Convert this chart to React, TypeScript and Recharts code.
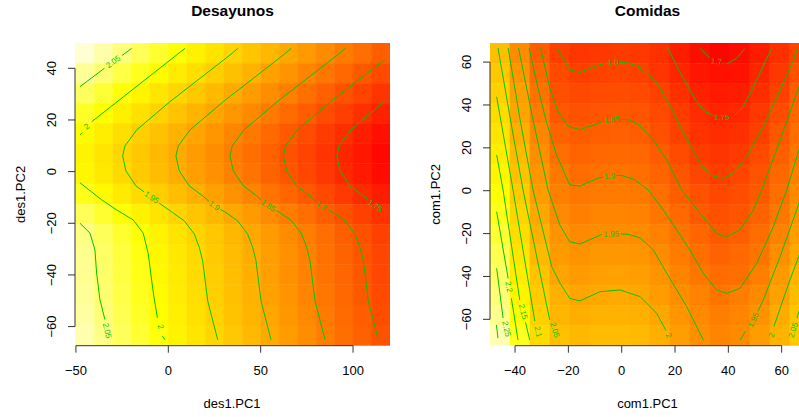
import React from "react";
import {
  ComposedChart,
  Line,
  ReferenceArea,
  ReferenceLine,
  Scatter,
  XAxis,
  YAxis
} from "recharts";

type Lab = { x: number; y: number; t: string; a: number };

const FONT = "'Liberation Sans', Arial, Helvetica, sans-serif";
const GREEN = "#00c400";

// ---------- Desayunos (left) ----------
const desXTicks = [-50, 0, 50, 100];
const desYTicks = [-60, -40, -20, 0, 20, 40];
const desXEdges = [-50.5, -40, -30, -20, -10, 0, 10, 20, 30, 40, 50, 60, 70, 80, 90, 100, 110, 120];
const desYEdges = [49.8, 42, 34.2, 26.4, 18.6, 10.8, 3, -4.8, -12.6, -20.4, -28.2, -36, -43.8, -51.6, -59.4, -67.4];
// rows top -> bottom
const desZ = [
  [2.089, 2.072, 2.054, 2.037, 2.020, 2.002, 1.985, 1.968, 1.950, 1.933, 1.915, 1.898, 1.881, 1.863, 1.846, 1.829, 1.811],
  [2.065, 2.048, 2.030, 2.013, 1.996, 1.978, 1.961, 1.944, 1.926, 1.909, 1.891, 1.874, 1.857, 1.839, 1.822, 1.805, 1.787],
  [2.040, 2.023, 2.005, 1.988, 1.971, 1.953, 1.936, 1.919, 1.901, 1.884, 1.866, 1.849, 1.832, 1.814, 1.797, 1.780, 1.762],
  [2.017, 2.000, 1.982, 1.965, 1.948, 1.930, 1.913, 1.896, 1.878, 1.861, 1.843, 1.826, 1.809, 1.791, 1.774, 1.757, 1.739],
  [1.997, 1.980, 1.962, 1.945, 1.928, 1.910, 1.893, 1.876, 1.858, 1.841, 1.823, 1.806, 1.789, 1.771, 1.754, 1.737, 1.719],
  [1.987, 1.970, 1.952, 1.935, 1.918, 1.900, 1.883, 1.866, 1.848, 1.831, 1.813, 1.796, 1.779, 1.761, 1.744, 1.727, 1.709],
  [1.991, 1.974, 1.956, 1.939, 1.922, 1.904, 1.887, 1.870, 1.852, 1.835, 1.817, 1.800, 1.783, 1.765, 1.748, 1.731, 1.713],
  [2.011, 1.994, 1.976, 1.959, 1.942, 1.924, 1.907, 1.890, 1.872, 1.855, 1.837, 1.820, 1.803, 1.785, 1.768, 1.751, 1.733],
  [2.037, 2.020, 2.002, 1.985, 1.968, 1.950, 1.933, 1.916, 1.898, 1.881, 1.863, 1.846, 1.829, 1.811, 1.794, 1.777, 1.759],
  [2.055, 2.038, 2.020, 2.003, 1.986, 1.968, 1.951, 1.934, 1.916, 1.899, 1.881, 1.864, 1.847, 1.829, 1.812, 1.795, 1.777],
  [2.060, 2.043, 2.025, 2.008, 1.991, 1.973, 1.956, 1.939, 1.921, 1.904, 1.886, 1.869, 1.852, 1.834, 1.817, 1.800, 1.782],
  [2.062, 2.045, 2.027, 2.010, 1.993, 1.975, 1.958, 1.941, 1.923, 1.906, 1.888, 1.871, 1.854, 1.836, 1.819, 1.802, 1.784],
  [2.065, 2.048, 2.030, 2.013, 1.996, 1.978, 1.961, 1.944, 1.926, 1.909, 1.891, 1.874, 1.857, 1.839, 1.822, 1.805, 1.787],
  [2.069, 2.052, 2.034, 2.017, 2.000, 1.982, 1.965, 1.948, 1.930, 1.913, 1.895, 1.878, 1.861, 1.843, 1.826, 1.809, 1.791],
  [2.074, 2.057, 2.039, 2.022, 2.005, 1.987, 1.970, 1.953, 1.935, 1.918, 1.900, 1.883, 1.866, 1.848, 1.831, 1.814, 1.796]
];

// contour pieces (gaps left where the labels sit)
const desC205a = [[-47.8, 32.9], [-34.6, 40.0]];
const desC205b = [[-25.0, 45.0], [-19.8, 47.7]];
const desC20a = [[-47.8, 14.2], [-46.6, 15.1]];
const desC20b = [[-41.5, 19.3], [9.0, 47.7]];
const desC205c = [[-47.8, -20.0], [-42.4, -23.8], [-39.7, -30.3], [-38.8, -39.3], [-37.0, -49.6], [-34.3, -57.3]];
const desC20c = [[-47.8, -4.3], [-36.1, -10.9], [-28.0, -14.8], [-19.0, -18.7], [-13.6, -23.8], [-10.9, -31.6], [-8.1, -47.0], [-5.9, -56.6]];
const desC20d = [[-3.3, -63.6], [-1.8, -65.1]];
const desC195a = [[37.89, 47.85], [33.39, 45.14], [0.9, 27.08], [-17.13, 16.13], [-23.46, 9.94], [-24.71, 6.07], [-22.92, 0.27], [-17.51, -5.53], [-13.12, -7.85]];
const desC195b = [[-4.89, -12.22], [2.37, -15.86], [8.7, -19.07], [14.12, -24.21], [16.82, -29.4], [18.61, -34.54], [21.32, -50.01], [26.73, -65.09]];
const desC19a = [[66.75, 47.85], [62.25, 45.14], [29.76, 27.08], [11.73, 16.13], [5.4, 9.94], [4.15, 6.07], [5.94, 0.27], [11.35, -5.53], [18.61, -9.4], [22.02, -11.49]];
const desC19b = [[28.19, -14.62], [31.23, -15.86], [37.56, -19.07], [42.98, -24.21], [45.68, -29.4], [47.47, -34.54], [50.18, -50.01], [55.59, -65.09]];
const desC185a = [[95.99, 47.85], [91.49, 45.14], [59.0, 27.08], [40.97, 16.13], [34.64, 9.94], [33.39, 6.07], [35.18, 0.27], [40.59, -5.53], [47.85, -9.4], [50.23, -10.87]];
const desC185b = [[58.57, -15.09], [60.47, -15.86], [66.8, -19.07], [72.22, -24.21], [74.92, -29.4], [76.71, -34.54], [79.42, -50.01], [84.83, -65.09]];
const desC18a = [[117.3, 43.44], [87.86, 27.08], [69.83, 16.13], [63.5, 9.94], [62.25, 6.07], [64.04, 0.27], [69.45, -5.53], [76.71, -9.4], [80.12, -11.49]];
const desC18b = [[86.29, -14.62], [89.33, -15.86], [95.66, -19.07], [101.08, -24.21], [103.78, -29.4], [105.57, -34.54], [108.28, -50.01], [113.69, -65.09]];
const desC175a = [[117.3, 27.4], [98.75, 16.13], [92.42, 9.94], [91.17, 6.07], [92.96, 0.27], [98.37, -5.53], [105.63, -9.4], [108.01, -10.87]];
const desC175b = [[116.35, -15.09], [117.3, -15.5]];

const desLabels: Lab[] = [
  { x: -29.8, y: 42.5, t: "2.05", a: -36 },
  { x: -44.2, y: 17.4, t: "2", a: -38 },
  { x: -33.2, y: -61.6, t: "2.05", a: 76 },
  { x: -4.2, y: -60.1, t: "2", a: 76 },
  { x: -9.01, y: -10.06, t: "1.95", a: 34 },
  { x: 24.89, y: -13.27, t: "1.9", a: 35 },
  { x: 54.13, y: -13.27, t: "1.85", a: 35 },
  { x: 82.99, y: -13.27, t: "1.8", a: 35 },
  { x: 111.91, y: -13.27, t: "1.75", a: 35 }
];

// ---------- Comidas (right) ----------
const comXTicks = [-40, -20, 0, 20, 40, 60];
const comYTicks = [-60, -40, -20, 0, 20, 40, 60];
const comXEdges = [-49.4, -41.9, -34.4, -26.9, -19.4, -11.9, -4.4, 3.1, 10.6, 18.1, 25.6, 33.1, 40.6, 48.1, 55.6, 63.1, 70.6];
const comYEdges = [68.9, 59.5, 50.1, 40.7, 31.2, 21.8, 12.4, 3.0, -6.4, -15.8, -25.2, -34.6, -44.1, -53.5, -62.9, -72.3];
const comZ = [
  [2.045, 1.948, 1.858, 1.800, 1.783, 1.788, 1.792, 1.787, 1.772, 1.736, 1.707, 1.688, 1.701, 1.733, 1.770, 1.810],
  [2.062, 1.966, 1.877, 1.822, 1.801, 1.807, 1.809, 1.804, 1.780, 1.751, 1.722, 1.711, 1.717, 1.750, 1.786, 1.838],
  [2.080, 1.982, 1.897, 1.833, 1.818, 1.825, 1.827, 1.822, 1.805, 1.771, 1.741, 1.729, 1.735, 1.768, 1.804, 1.859],
  [2.098, 1.996, 1.917, 1.849, 1.836, 1.842, 1.845, 1.840, 1.821, 1.792, 1.764, 1.746, 1.755, 1.786, 1.826, 1.876],
  [2.115, 2.014, 1.936, 1.870, 1.854, 1.860, 1.863, 1.858, 1.833, 1.805, 1.776, 1.764, 1.771, 1.800, 1.845, 1.891],
  [2.133, 2.033, 1.951, 1.891, 1.872, 1.878, 1.881, 1.876, 1.854, 1.823, 1.793, 1.781, 1.790, 1.822, 1.861, 1.906],
  [2.150, 2.051, 1.966, 1.912, 1.889, 1.896, 1.899, 1.893, 1.872, 1.841, 1.813, 1.796, 1.811, 1.839, 1.876, 1.925],
  [2.169, 2.069, 1.981, 1.925, 1.907, 1.914, 1.916, 1.911, 1.890, 1.858, 1.837, 1.815, 1.829, 1.850, 1.890, 1.944],
  [2.185, 2.087, 1.997, 1.942, 1.924, 1.932, 1.933, 1.929, 1.908, 1.880, 1.852, 1.833, 1.842, 1.867, 1.906, 1.962],
  [2.203, 2.102, 2.017, 1.963, 1.942, 1.950, 1.949, 1.947, 1.926, 1.900, 1.875, 1.851, 1.862, 1.887, 1.928, 1.982],
  [2.222, 2.118, 2.036, 1.976, 1.959, 1.968, 1.969, 1.964, 1.945, 1.917, 1.893, 1.868, 1.880, 1.899, 1.951, 2.001],
  [2.237, 2.132, 2.052, 1.993, 1.977, 1.985, 1.987, 1.982, 1.962, 1.934, 1.906, 1.886, 1.890, 1.923, 1.973, 2.027],
  [2.250, 2.146, 2.067, 2.017, 1.995, 2.003, 2.005, 1.999, 1.979, 1.950, 1.929, 1.904, 1.919, 1.943, 1.988, 2.041],
  [2.266, 2.170, 2.080, 2.028, 2.013, 2.021, 2.023, 2.017, 1.998, 1.967, 1.942, 1.920, 1.934, 1.960, 2.007, 2.058],
  [2.291, 2.189, 2.099, 2.047, 2.031, 2.039, 2.040, 2.033, 2.014, 1.982, 1.952, 1.935, 1.946, 1.980, 2.021, 2.066]
];

const comC23 = [[-47.0, -62.6], [-46.4, -68.8]];
const comC225 = [[-46.9, -36.2], [-44.5, -59.4]];
const comC22a = [[-46.9, -9.8], [-42.6, -40.9]];
const comC22b = [[-41.39, -50.2], [-38.9, -69.6]];
const comC215a = [[-46.9, 16.7], [-44.5, 0.3], [-38.24, -51.0]];
const comC215b = [[-36.1, -61.4], [-34.5, -69.6]];
const comC21 = [[-46.9, 43.8], [-40.75, 0.3], [-32.6, -60.8]];
const comC205 = [[-46.4, 66.6], [-41.7, 33.0], [-37.0, 0.3], [-27.0, -60.3]];
const comC20 = [[-42.6, 66.6], [-38.1, 33.0], [-33.25, 0.3], [-26.24, -35.4], [-23.1, -43.2], [-19.5, -50.2], [-15.7, -51.4], [-8.1, -47.1], [-0.6, -46.3], [6.9, -49.4], [13.14, -57.2], [16.6, -65.2]];
const comC195a = [[-38.7, 66.6], [-33.25, 33.0], [-27.6, 0.3], [-23.2, -16.0], [-19.5, -23.8], [-15.7, -24.9], [-7.45, -20.4]];
const comC195b = [[-0.35, -20.2], [2.37, -20.3], [6.88, -22.0], [11.86, -27.6], [16.89, -38.5], [24.39, -54.1], [30.6, -69.6]];
const comC195c = [[44.4, -69.6], [46.44, -65.6]];
const comC195d = [[51.1, -56.2], [53.1, -51.0], [59.4, -30.8], [66.5, -5.9], [68.75, 2.7]];
const comC19a = [[-34.75, 66.6], [-31.4, 47.9], [-28.3, 32.4], [-24.5, 16.8], [-19.5, 2.8], [-15.7, 2.1], [-8.9, 5.9], [-7.0, 6.25]];
const comC19b = [[-1.94, 7.04], [-0.14, 7.18], [4.89, 5.13], [9.99, 0.33], [15.6, -9.0], [20.64, -18.3], [25.6, -27.7], [30.6, -38.5], [35.64, -46.3], [39.4, -47.9], [44.4, -45.5], [50.64, -33.9], [56.86, -16.8], [61.9, 0.33], [66.5, 19.0], [69.9, 33.0]];
const comC185a = [[-30.4, 66.6], [-27.0, 47.9], [-23.9, 37.0], [-20.1, 30.0], [-15.7, 28.5], [-10.1, 30.8], [-7.1, 32.4]];
const comC185b = [[-0.1, 33.2], [2.4, 33.1], [6.1, 31.1], [11.9, 23.6], [16.9, 14.3], [22.5, 0.3], [29.4, -10.5], [35.6, -19.9], [39.4, -21.5], [44.4, -18.3], [49.4, -9.0], [52.5, 0.3], [59.4, 23.6], [66.5, 48.5], [69.1, 57.2]];
const comC18a = [[-24.25, 66.6], [-19.5, 56.4], [-15.7, 55.2], [-10.1, 58.0], [-5.9, 59.6]];
const comC18b = [[-0.6, 59.8], [2.4, 59.6], [6.1, 58.0], [12.9, 51.0], [17.9, 40.1], [24.1, 24.6], [29.4, 12.8], [33.1, 7.3], [38.1, 5.8], [41.9, 8.1], [46.9, 15.9], [53.1, 29.8], [59.4, 47.0], [64.4, 61.0], [66.2, 67.0]];
const comC175a = [[17.3, 66.6], [21.6, 55.7], [25.6, 47.0], [28.1, 41.5], [31.25, 36.8], [34.06, 35.3]];
const comC175b = [[41.86, 34.5], [45.6, 39.2], [50.6, 51.6], [56.3, 66.6]];
const comC17a = [[29.4, 66.4], [33.1, 61.8]];
const comC17b = [[39.4, 59.1], [43.1, 61.8], [46.25, 66.4]];
const comC20r = [[57.1, -63.3], [63.1, -41.6], [68.75, -23.0]];
const comC205r = [[65.75, -59.4], [68.75, -47.2]];

const comLabels: Lab[] = [
  { x: -43.25, y: -64.5, t: "2.25", a: 78 },
  { x: -42.36, y: -44.9, t: "2.2", a: 78 },
  { x: -37.0, y: -56.4, t: "2.15", a: 76 },
  { x: -31.4, y: -65.8, t: "2.1", a: 76 },
  { x: -25.1, y: -65.0, t: "2.05", a: 73 },
  { x: 17.56, y: -67.6, t: "2", a: 62 },
  { x: -3.89, y: -20.3, t: "1.95", a: -2 },
  { x: -4.49, y: 6.72, t: "1.9", a: -4 },
  { x: -3.6, y: 33.1, t: "1.85", a: -3 },
  { x: -3.25, y: 60.0, t: "1.8", a: -2 },
  { x: 37.5, y: 34.2, t: "1.75", a: 0 },
  { x: 35.6, y: 60.2, t: "1.7", a: 5 },
  { x: 49.4, y: -60.3, t: "1.95", a: -65 },
  { x: 56.26, y: -67.3, t: "2", a: -70 },
  { x: 64.36, y: -65.0, t: "2.05", a: -72 }
];

const desSegs = [desC205a, desC205b, desC20a, desC20b, desC205c, desC20c, desC20d, desC195a, desC195b, desC19a, desC19b, desC185a, desC185b, desC18a, desC18b, desC175a, desC175b];
const comSegs = [comC23, comC225, comC22a, comC22b, comC215a, comC215b, comC21, comC205, comC20, comC195a, comC195b, comC195c, comC195d, comC19a, comC19b, comC185a, comC185b, comC18a, comC18b, comC175a, comC175b, comC17a, comC17b, comC20r, comC205r];

// R heat.colors-like ramp: red -> yellow -> pale
function heat(v: number, lo: number, hi: number) {
  const t = Math.max(0, Math.min(1, (v - lo) / (hi - lo)));
  if (t < 0.75) return `rgb(255,${Math.round((255 * t) / 0.75)},0)`;
  const s = 1 - ((t - 0.75) / 0.25) * 0.92;
  return `rgb(255,255,${Math.round(255 * (1 - s))})`;
}

const fmt = (v: number) => String(v).replace("-", "\u2212");

function XTick(props: any) {
  const { x, y, payload } = props;
  return (
    <text x={x} y={y + 20.5} textAnchor="middle" fontSize={13} fontFamily={FONT} fill="#000">
      {fmt(payload.value)}
    </text>
  );
}

function YTick(props: any) {
  const { x, y, payload } = props;
  const bx = x - 9.7;
  return (
    <text x={bx} y={y} transform={`rotate(-90 ${bx} ${y})`} textAnchor="middle" fontSize={13} fontFamily={FONT} fill="#000">
      {fmt(payload.value)}
    </text>
  );
}

function LabelShape(props: any) {
  const { cx, cy, payload } = props;
  return (
    <text
      x={cx}
      y={cy}
      transform={`rotate(${payload.a} ${cx} ${cy})`}
      textAnchor="middle"
      dominantBaseline="central"
      fontSize={8}
      fontFamily={FONT}
      fill={GREEN}
    >
      {payload.t}
    </text>
  );
}

type PanelProps = {
  width: number;
  yAxisWidth: number;
  right: number;
  xDomain: [number, number];
  yDomain: [number, number];
  xTicks: number[];
  yTicks: number[];
  xEdges: number[];
  yEdges: number[];
  z: number[][];
  zLim: [number, number];
  segs: number[][][];
  labels: Lab[];
};

function HeatPanel(p: PanelProps) {
  const cells: React.ReactNode[] = [];
  p.z.forEach((row, r) =>
    row.forEach((v, c) => {
      const col = heat(v, p.zLim[0], p.zLim[1]);
      cells.push(
        <ReferenceArea
          key={`c${r}-${c}`}
          x1={p.xEdges[c]}
          x2={p.xEdges[c + 1]}
          y1={p.yEdges[r + 1]}
          y2={p.yEdges[r]}
          fill={col}
          fillOpacity={1}
          stroke={col}
          strokeWidth={0.6}
          ifOverflow="hidden"
        />
      );
    })
  );
  const xt = p.xTicks;
  const yt = p.yTicks;
  return (
    <ComposedChart width={p.width} height={417} margin={{ top: 43, right: p.right, bottom: 0, left: 0 }}>
      <XAxis
        type="number"
        dataKey="x"
        domain={p.xDomain}
        allowDataOverflow
        ticks={xt}
        interval={0}
        tick={<XTick />}
        tickSize={7}
        tickLine={{ stroke: "#333" }}
        axisLine={false}
        height={71.3}
      />
      <YAxis
        type="number"
        dataKey="y"
        domain={p.yDomain}
        allowDataOverflow
        ticks={yt}
        interval={0}
        tick={<YTick />}
        tickSize={7}
        tickLine={{ stroke: "#333" }}
        axisLine={false}
        width={p.yAxisWidth}
      />
      {cells}
      <ReferenceLine
        segment={[{ x: xt[0], y: p.yDomain[0] }, { x: xt[xt.length - 1], y: p.yDomain[0] }]}
        stroke="#333"
        ifOverflow="visible"
      />
      <ReferenceLine
        segment={[{ x: p.xDomain[0], y: yt[0] }, { x: p.xDomain[0], y: yt[yt.length - 1] }]}
        stroke="#333"
        ifOverflow="visible"
      />
      {p.segs.map((s, i) => (
        <Line
          key={`l${i}`}
          data={s.map(([x, y]) => ({ x, y }))}
          dataKey="y"
          type="linear"
          stroke={GREEN}
          strokeWidth={1}
          dot={false}
          activeDot={false}
          isAnimationActive={false}
        />
      ))}
      <Scatter data={p.labels} dataKey="y" shape={LabelShape} isAnimationActive={false} />
    </ComposedChart>
  );
}

export default function App() {
  return (
    <div style={{ position: "absolute", left: 0, top: 0, width: 799, height: 417, overflow: "hidden", background: "#fff" }}>
      <div style={{ position: "absolute", left: 0, top: 0 }}>
        <HeatPanel
          width={400}
          yAxisWidth={75}
          right={10}
          xDomain={[-50.5, 120]}
          yDomain={[-67.4, 49.8]}
          xTicks={desXTicks}
          yTicks={desYTicks}
          xEdges={desXEdges}
          yEdges={desYEdges}
          z={desZ}
          zLim={[1.7, 2.1]}
          segs={desSegs}
          labels={desLabels}
        />
      </div>
      <div style={{ position: "absolute", left: 400, top: 0 }}>
        <HeatPanel
          width={405}
          yAxisWidth={90}
          right={0}
          xDomain={[-49.4, 68.75]}
          yDomain={[-72.3, 68.9]}
          xTicks={comXTicks}
          yTicks={comYTicks}
          xEdges={comXEdges}
          yEdges={comYEdges}
          z={comZ}
          zLim={[1.68, 2.33]}
          segs={comSegs}
          labels={comLabels}
        />
      </div>
      <svg width={799} height={417} style={{ position: "absolute", left: 0, top: 0, pointerEvents: "none" }}>
        <g fontFamily={FONT} fill="#000">
          <text x={232.5} y={16} textAnchor="middle" fontSize={15.5} fontWeight="bold">Desayunos</text>
          <text x={647.5} y={16} textAnchor="middle" fontSize={15.5} fontWeight="bold">Comidas</text>
          <text x={232} y={408} textAnchor="middle" fontSize={13}>des1.PC1</text>
          <text x={647.5} y={408} textAnchor="middle" fontSize={13}>com1.PC1</text>
          <text x={25} y={194.4} textAnchor="middle" fontSize={13} transform="rotate(-90 25 194.4)">des1.PC2</text>
          <text x={440} y={194.4} textAnchor="middle" fontSize={13} transform="rotate(-90 440 194.4)">com1.PC2</text>
        </g>
      </svg>
    </div>
  );
}
